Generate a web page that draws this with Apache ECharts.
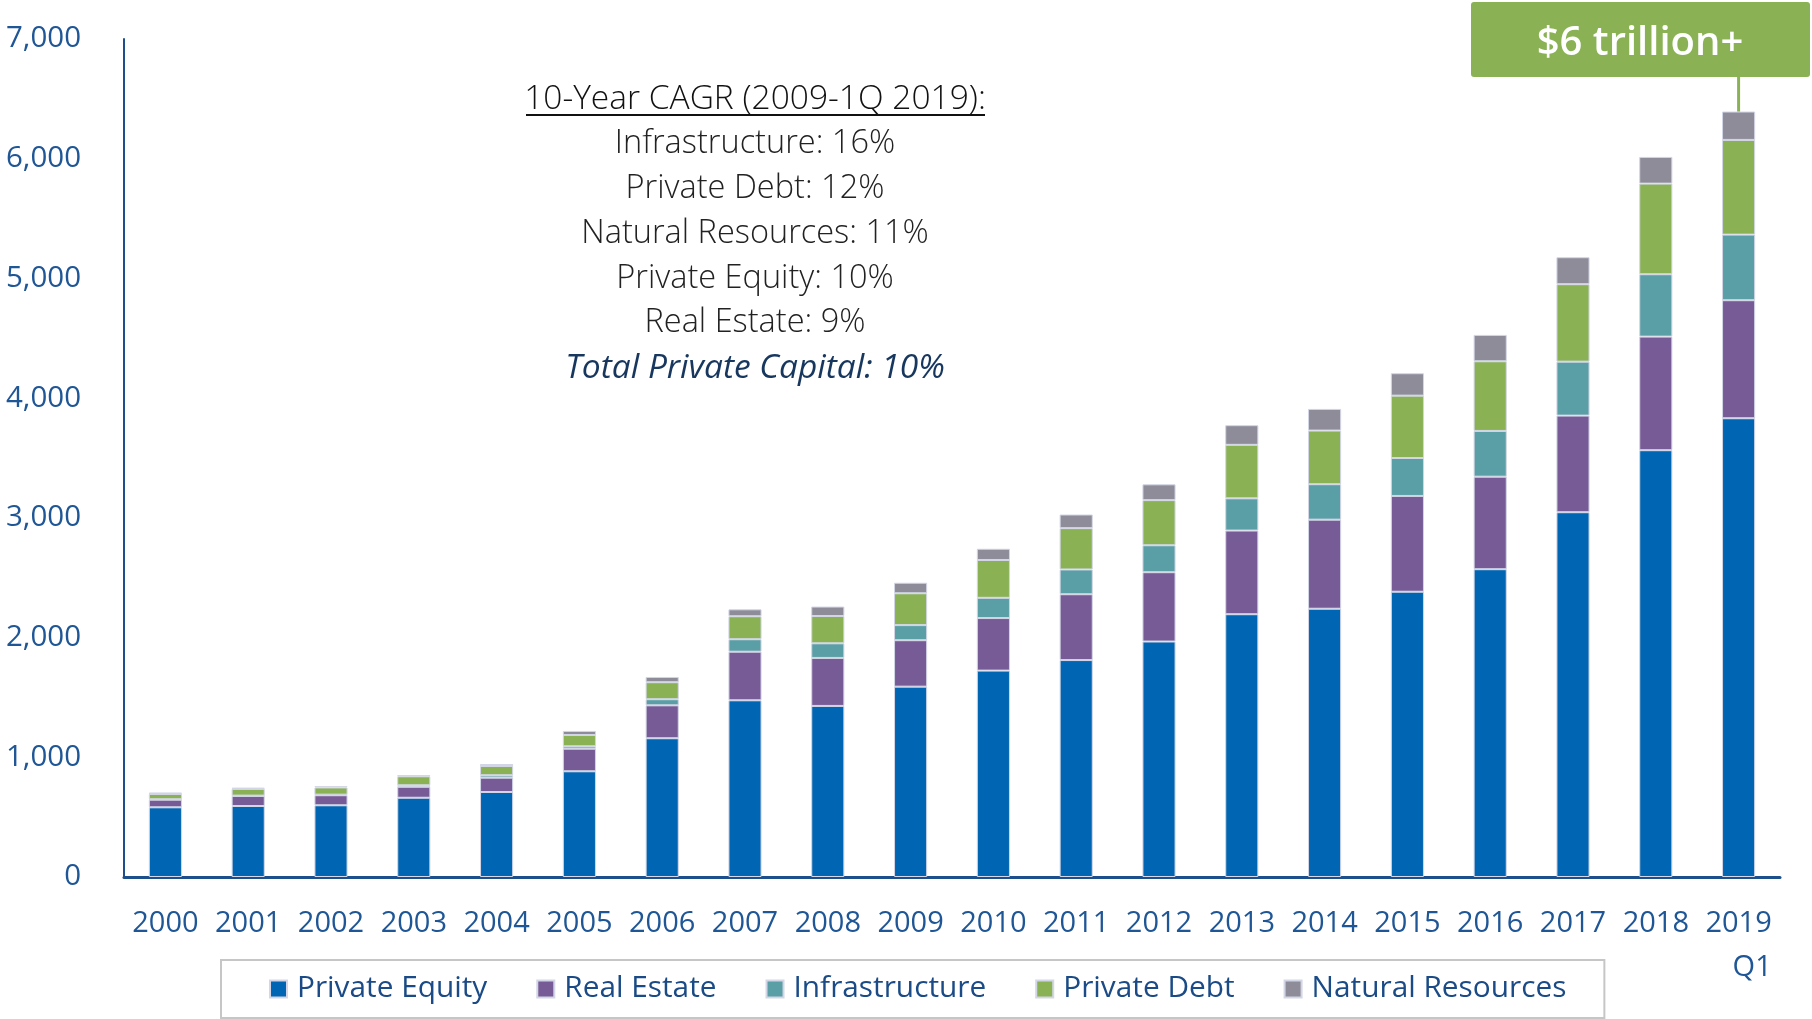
<!DOCTYPE html>
<html>
<head>
<meta charset="utf-8">
<script src="https://cdn.jsdelivr.net/npm/echarts@6/dist/echarts.min.js"></script>
<style>
  html, body { margin: 0; padding: 0; background: #fff; }
  #main { width: 1812px; height: 1019px; }
</style>
</head>
<body>
<div id="main"></div>
<script>
// values in USD billions
const years = ['2000', '2001', '2002', '2003', '2004', '2005', '2006', '2007', '2008', '2009',
  '2010', '2011', '2012', '2013', '2014', '2015', '2016', '2017', '2018', '2019\nQ1'];
const privateEquity = [582, 593, 599, 662, 710, 883, 1159, 1476, 1429, 1590, 1724, 1812, 1967, 2195, 2241, 2383, 2571, 3047, 3565, 3832];
const realEstate = [64, 84, 84, 92, 120, 189, 275, 406, 401, 388, 439, 550, 579, 699, 744, 800, 773, 807, 949, 986];
const infrastructure = [3, 3, 5, 12, 20, 20, 51, 104, 122, 126, 169, 207, 225, 269, 296, 317, 382, 451, 521, 548];
const privateDebt = [45, 56, 60, 75, 77, 94, 142, 192, 228, 266, 316, 345, 377, 447, 448, 521, 582, 647, 757, 791];
const naturalResources = [12, 10, 11, 11, 17, 34, 44, 58, 79, 88, 94, 114, 132, 164, 181, 187, 220, 225, 223, 237];

const cagrTitle = '10-Year CAGR (2009-1Q 2019):';
const cagrLines = ['Infrastructure: 16%', 'Private Debt: 12%', 'Natural Resources: 11%', 'Private Equity: 10%', 'Real Estate: 9%'];
const cagrTotal = 'Total Private Capital: 10%';
const calloutText = '$6 trillion+';

const FONT = '"Open Sans", "Noto Sans", sans-serif';
const AXIS_BLUE = '#1f5696';

const chart = echarts.init(document.getElementById('main'));

function barSeries(name, data, color) {
  return {
    name: name,
    type: 'bar',
    stack: 'total',
    barWidth: '40%',
    data: data,
    itemStyle: { color: color, borderColor: '#d3d6e6', borderWidth: 1 },
  };
}

const annotation = [];
const cx = 755;
annotation.push({
  type: 'text', z: 10,
  style: { text: cagrTitle, x: cx, y: 99, align: 'center', verticalAlign: 'middle',
    font: '300 33.5px ' + FONT, fill: '#111' },
});
annotation.push({
  type: 'rect', z: 10,
  shape: { x: 526, y: 114, width: 459, height: 2 },
  style: { fill: '#111' },
});
cagrLines.forEach((t, i) => {
  annotation.push({
    type: 'text', z: 10,
    style: { text: t, x: cx, y: 144 + i * 44.8, align: 'center', verticalAlign: 'middle',
      font: '300 32.5px ' + FONT, fill: '#222' },
  });
});
annotation.push({
  type: 'text', z: 10,
  style: { text: cagrTotal, x: cx, y: 368, align: 'center', verticalAlign: 'middle',
    font: 'italic 33.5px ' + FONT, fill: '#17375e' },
});

const option = {
  animation: false,
  textStyle: { fontFamily: FONT },
  grid: { left: 124, right: 32, top: 39, bottom: 142 },
  legend: {
    left: 221,
    top: 960,
    padding: [13, 38, 13, 48],
    borderColor: '#c6c6c6',
    borderWidth: 2,
    icon: 'rect',
    itemWidth: 17,
    itemHeight: 17,
    itemGap: 49,
    textStyle: { fontSize: 29.8, color: '#1a4b86', lineHeight: 32, padding: [0, 0, 0, 5] },
  },
  xAxis: {
    type: 'category',
    data: years,
    axisLine: { lineStyle: { color: '#1d4f8c', width: 3 } },
    axisTick: { show: false },
    axisLabel: {
      color: AXIS_BLUE,
      fontSize: 29,
      lineHeight: 44,
      margin: 25,
      interval: 0,
      formatter: v => v.replace('\nQ1', '\n{q|Q1}'),
      rich: { q: { align: 'right', fontSize: 29, lineHeight: 44, color: AXIS_BLUE, fontFamily: FONT } },
    },
  },
  yAxis: {
    type: 'value',
    min: 0,
    max: 7000,
    interval: 1000,
    splitLine: { show: false },
    axisLine: { show: true, lineStyle: { color: '#1d4f8c', width: 2 } },
    axisTick: { show: false },
    axisLabel: {
      color: AXIS_BLUE,
      fontSize: 29.5,
      margin: 43,
      formatter: v => v.toLocaleString('en-US'),
    },
  },
  series: [
    barSeries('Private Equity', privateEquity, '#0065b2'),
    barSeries('Real Estate', realEstate, '#775b96'),
    barSeries('Infrastructure', infrastructure, '#599fa5'),
    barSeries('Private Debt', privateDebt, '#8ab254'),
    barSeries('Natural Resources', naturalResources, '#8d8c98'),
  ],
  graphic: annotation,
};

chart.setOption(option);

// callout for the latest bar, anchored to its stacked total
const last = years.length - 1;
const lastTotal = privateEquity[last] + realEstate[last] + infrastructure[last] + privateDebt[last] + naturalResources[last];
const peak = chart.convertToPixel({ gridIndex: 0 }, [last, lastTotal]);
chart.setOption({
  graphic: annotation.concat([
    {
      type: 'line', z: 10,
      shape: { x1: peak[0], y1: 70, x2: peak[0], y2: peak[1] },
      style: { stroke: '#8ab254', lineWidth: 3 },
    },
    {
      type: 'rect', z: 11,
      shape: { x: 1471, y: 2, width: 339, height: 75, r: 3 },
      style: { fill: '#8ab254' },
    },
    {
      type: 'text', z: 12,
      style: { text: calloutText, x: 1640, y: 44, align: 'center', verticalAlign: 'middle',
        font: '600 40px ' + FONT, fill: '#fff' },
    },
  ]),
});
</script>
</body>
</html>
